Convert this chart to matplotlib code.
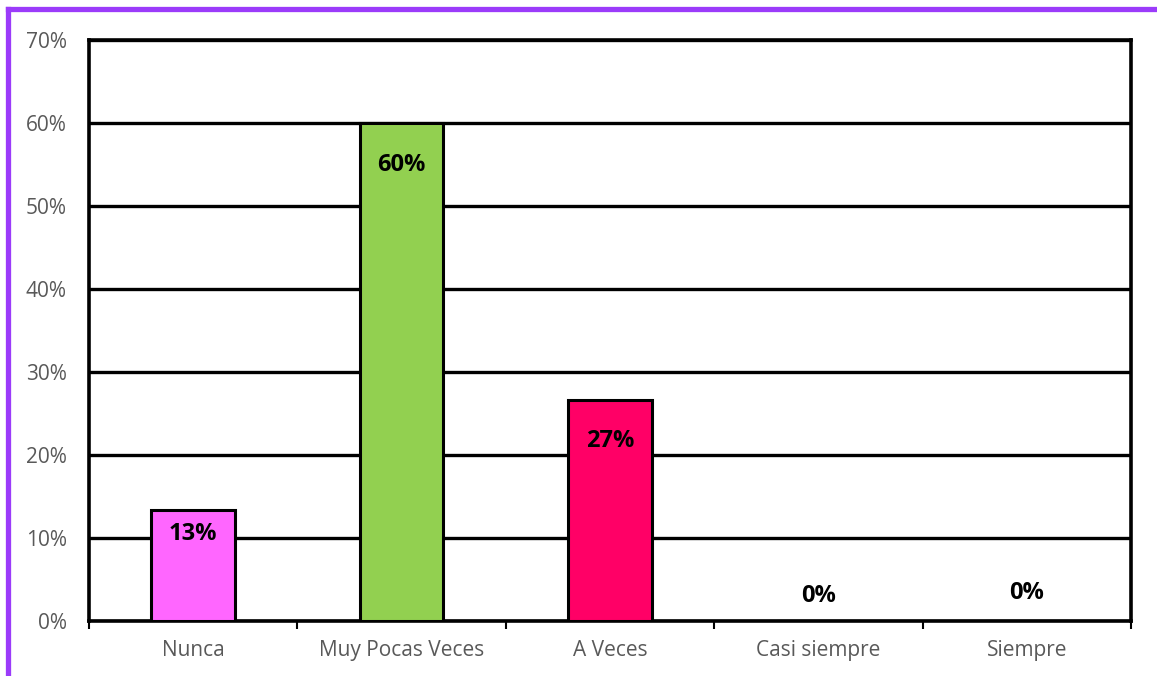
import matplotlib.pyplot as plt
from matplotlib.lines import Line2D

# Datos
categorias = ['Nunca', 'Muy Pocas Veces', 'A Veces', 'Casi siempre', 'Siempre']
valores = [13.33, 60.0, 26.67, 0.0, 0.0]
etiquetas = ['13%', '60%', '27%', '0%', '0%']
colores = ['#FF66FF', '#92D050', '#FF0066', '#FFFFFF', '#FFFFFF']
# desplazamiento vertical de cada etiqueta (pixeles)
desplaz = [-24, -42, -41, 25, 28]

plt.rcParams['font.family'] = ['Open Sans', 'DejaVu Sans']

fig = plt.figure(figsize=(11.57, 6.76), dpi=100)
ax = fig.add_axes([0.0769, 0.0814, 0.9006, 0.8594])

x = range(len(categorias))
ax.bar(x, valores, width=0.4, color=colores, edgecolor='black', linewidth=2.2, zorder=3)

for i, v in enumerate(valores):
    ax.annotate(etiquetas[i], (i, v), xytext=(0, desplaz[i] * 0.72),
                textcoords='offset points', ha='center', va='center',
                fontsize=17, fontweight='bold', color='black', zorder=4)

ax.set_xlim(-0.5, len(categorias) - 0.5)
ax.set_ylim(0, 70)
ax.set_yticks(range(0, 71, 10))
ax.set_yticklabels([f'{t}%' for t in range(0, 71, 10)])
ax.yaxis.grid(True, color='black', linewidth=2.4, zorder=0)
ax.set_axisbelow(True)

ax.set_xticks([i + 0.5 for i in range(-1, len(categorias))], minor=False)
ax.set_xticklabels([])
ax.set_xticks(list(x), minor=True)
ax.set_xticklabels(categorias, minor=True)
ax.tick_params(axis='x', which='major', length=6, width=1.5, direction='out', color='black')
ax.tick_params(axis='x', which='minor', length=0, pad=14, labelsize=15, labelcolor='#595959')
ax.tick_params(axis='y', length=0, pad=16, labelsize=15, labelcolor='#595959')

for s in ax.spines.values():
    s.set_linewidth(2.6)
    s.set_color('black')

# marco morado
fig.add_artist(Line2D([0.0065, 1.0], [0.986, 0.986], color='#9B3BFA', linewidth=3.8,
                      transform=fig.transFigure))
fig.add_artist(Line2D([0.0065, 0.0065], [0.0, 0.986], color='#9B3BFA', linewidth=3.8,
                      transform=fig.transFigure))

fig.savefig('out.png', dpi=100)
